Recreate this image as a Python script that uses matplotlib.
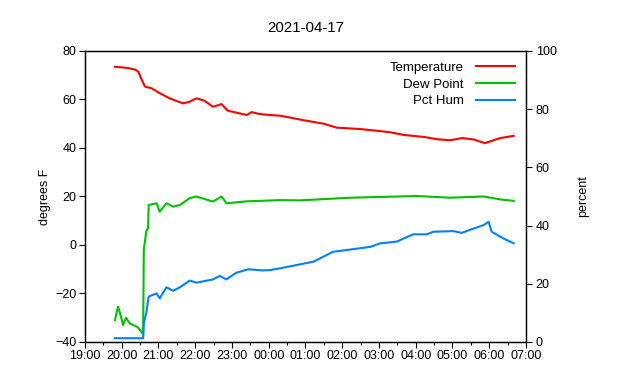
import pandas as pd
import numpy as np
import matplotlib
matplotlib.use("Agg")
import matplotlib.pyplot as plt
import matplotlib.dates as mdates

day = "2021-04-17"

# readings (HH:MM, times after midnight roll over to the next day)
temp_times = ["19:49", "20:10", "20:22", "20:27", "20:32", "20:38", "20:49", "21:02", "21:18", "21:40",
              "21:50", "22:02", "22:15", "22:29", "22:43", "22:53", "23:24", "23:32", "23:45", "00:02",
              "00:19", "00:56", "01:30", "01:51", "02:30", "02:46", "03:18", "03:40", "04:15", "04:35",
              "04:56", "05:16", "05:35", "05:53", "06:18", "06:40"]
temp_vals = [73.5, 73.0, 72.3, 71.5, 68.5, 65.3, 64.6, 62.6, 60.5, 58.4,
             59.0, 60.5, 59.5, 57.0, 58.1, 55.4, 53.6, 54.8, 54.0, 53.6,
             53.3, 51.5, 50.0, 48.4, 47.8, 47.4, 46.5, 45.4, 44.5, 43.6,
             43.2, 44.1, 43.5, 42.0, 44.1, 45.0]

dew_times = ["19:49", "19:54", "19:59", "20:02", "20:07", "20:13", "20:26", "20:35", "20:36", "20:40",
             "20:43", "20:44", "20:57", "21:02", "21:13", "21:24", "21:35", "21:51", "22:02", "22:29",
             "22:43", "22:51", "23:24", "00:18", "00:51", "02:13", "04:02", "04:56", "05:51", "06:18",
             "06:40"]
dew_vals = [-31.0, -25.4, -29.6, -33.0, -30.0, -32.3, -33.9, -36.7, -2.0, 5.5,
            7.0, 16.5, 17.2, 13.7, 17.2, 15.8, 16.5, 19.3, 20.0, 17.9,
            20.0, 17.2, 18.0, 18.5, 18.4, 19.5, 20.2, 19.5, 20.0, 18.8,
            18.2]

hum_times = ["19:49", "20:35", "20:36", "20:40", "20:44", "20:57", "21:02", "21:13", "21:24", "21:35",
             "21:51", "22:02", "22:29", "22:40", "22:51", "23:07", "23:27", "23:49", "00:02", "00:18",
             "01:13", "01:45", "02:07", "02:46", "03:02", "03:29", "03:56", "04:18", "04:29", "05:02",
             "05:15", "05:51", "05:59", "06:04", "06:23", "06:40"]
hum_vals = [1.3, 1.3, 6.4, 9.9, 15.6, 16.7, 15.0, 18.8, 17.6, 18.8,
            21.1, 20.4, 21.5, 22.7, 21.5, 23.8, 25.0, 24.6, 24.7, 25.3,
            27.6, 31.0, 31.6, 32.7, 33.9, 34.5, 37.0, 37.0, 37.9, 38.1,
            37.5, 40.2, 41.3, 37.9, 35.6, 33.9]


def to_dt(times):
    out = []
    for t in times:
        ts = pd.Timestamp(day + " " + t)
        if ts.hour < 12:
            ts += pd.Timedelta(days=1)
        out.append(ts)
    return out


plt.rcParams['font.family'] = ['Liberation Sans', 'DejaVu Sans']
plt.rcParams['font.size'] = 9

fig = plt.figure(figsize=(6.4, 3.8), dpi=100)
ax = fig.add_axes([0.1328, 0.1, 0.689, 0.7658])
ax2 = ax.twinx()

l1, = ax.plot(to_dt(temp_times), temp_vals, color='#ff0000', lw=1.5, label='Temperature')
l2, = ax.plot(to_dt(dew_times), dew_vals, color='#00c000', lw=1.5, label='Dew Point')
l3, = ax2.plot(to_dt(hum_times), hum_vals, color='#0080ff', lw=1.5, label='Pct Hum')

ax.set_xlim(pd.Timestamp(day + " 19:00"), pd.Timestamp(day + " 19:00") + pd.Timedelta(hours=12))
ax.set_ylim(-40, 80)
ax.set_yticks(np.arange(-40, 81, 20))
ax2.set_ylim(0, 100)
ax2.set_yticks(np.arange(0, 101, 20))

ax.xaxis.set_major_locator(mdates.HourLocator())
ax.xaxis.set_minor_locator(mdates.MinuteLocator(byminute=30))
ax.xaxis.set_major_formatter(mdates.DateFormatter('%H:%M'))

ax.tick_params(direction='out', length=4, width=0.8, colors='black', pad=2)
ax.tick_params(which='minor', direction='out', length=2.5, width=0.8)
ax2.tick_params(direction='out', length=4, width=0.8, pad=3)

ax.set_ylabel('degrees F', labelpad=3)
ax2.set_ylabel('percent', labelpad=15)
ax.set_title(day, pad=14)

for a in (ax, ax2):
    for s in a.spines.values():
        s.set_linewidth(0.9)

leg = ax2.legend(handles=[l1, l2, l3], loc='upper right', frameon=False, markerfirst=False,
                 handlelength=3.0, handletextpad=0.9, labelspacing=0.35,
                 borderaxespad=0.4, fontsize=9.5)
for t in leg.get_texts():
    t.set_ha('right')

fig.savefig('out.png', dpi=100)
